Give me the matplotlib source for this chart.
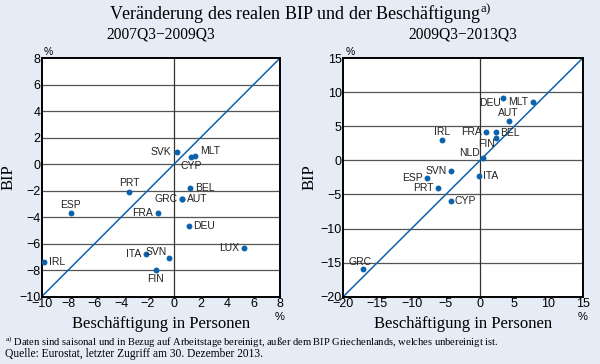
import matplotlib
matplotlib.use("Agg")
import matplotlib.pyplot as plt

plt.rcParams["mathtext.fontset"] = "custom"
plt.rcParams["mathtext.rm"] = "Liberation Serif"

# 2007Q3-2009Q3
left_names = ["SVK", "MLT", "CYP", "PRT", "BEL", "GRC", "AUT", "ESP", "FRA",
              "DEU", "LUX", "IRL", "ITA", "SVN", "FIN"]
left_x = [0.2, 1.6, 1.3, -3.4, 1.2, 0.6, 0.6, -7.8, -1.2, 1.1, 5.3, -9.8, -2.1, -0.4, -1.4]
left_y = [0.9, 0.6, 0.55, -2.1, -1.8, -2.6, -2.6, -3.7, -3.7, -4.65, -6.3, -7.35, -6.8, -7.05, -8.0]

# 2009Q3-2013Q3
right_names = ["DEU", "MLT", "AUT", "FRA", "BEL", "FIN", "IRL", "NLD", "SVN",
               "ITA", "ESP", "PRT", "CYP", "GRC"]
right_x = [3.3, 7.7, 4.2, 0.9, 2.4, 2.3, -5.6, 0.5, -4.2, -0.1, -7.8, -6.2, -4.3, -17.1]
right_y = [9.1, 8.6, 5.8, 4.2, 4.1, 3.3, 3.0, 0.4, -1.6, -2.3, -2.6, -4.1, -6.0, -16.0]

left_ticks = [-10, -8, -6, -4, -2, 0, 2, 4, 6, 8]
right_ticks = [-20, -15, -10, -5, 0, 5, 10, 15]

# label placement: (dx px, dy px, ha)
left_lab = {"SVK": (-5, 0, "right"), "MLT": (5, 5, "left"), "CYP": (0, -9, "center"),
            "PRT": (0, 9, "center"), "BEL": (5, 0, "left"), "GRC": (-4, 0, "right"),
            "AUT": (5, 0, "left"), "ESP": (0, 8, "center"), "FRA": (-5, 0, "right"),
            "DEU": (5, 0, "left"), "LUX": (-5, 0, "right"), "IRL": (5, 0, "left"),
            "ITA": (-5, 0, "right"), "SVN": (-2, 6, "right"), "FIN": (0, -9, "center")}
right_lab = {"DEU": (-2, -5, "right"), "MLT": (-5, 0, "right"), "AUT": (0, 8, "center"),
             "FRA": (-4, 0, "right"), "BEL": (4, -1, "left"), "FIN": (-1, -6, "right"),
             "IRL": (0, 8, "center"), "NLD": (-4, 5, "right"), "SVN": (-4, 0, "right"),
             "ITA": (4, 0, "left"), "ESP": (-4, 0, "right"), "PRT": (-4, 0, "right"),
             "CYP": (4, 0, "left"), "GRC": (-3, 7, "center")}

bg = "#e5ecf6"
blue = "#0d62ad"
serif = "Liberation Serif"
sans = "Liberation Sans"

fig = plt.figure(figsize=(6, 3.64), dpi=100, facecolor=bg)


def panel(rect, xs, ys, names, labs, ticks, title):
    ax = fig.add_axes(rect)
    ax.set_facecolor("white")
    lo, hi = ticks[0], ticks[-1]
    ax.set_xlim(lo, hi)
    ax.set_ylim(lo, hi)
    ax.set_xticks(ticks)
    ax.set_yticks(ticks)
    ax.set_xticklabels([str(t).replace("-", "\u2212") for t in ticks], family=sans, fontsize=9)
    ax.set_yticklabels([str(t).replace("-", "\u2212") for t in ticks], family=sans, fontsize=9)
    ax.tick_params(length=0, pad=1)
    for t in ticks[1:-1]:
        ax.axhline(t, color="#555555", lw=0.9, zorder=1)
    ax.axvline(0, color="#333333", lw=0.9, zorder=1)
    ax.plot([lo, hi], [lo, hi], color=blue, lw=1.1, zorder=2)
    ax.scatter(xs, ys, s=18, color=blue, zorder=3, linewidths=0)
    for n, x, y in zip(names, xs, ys):
        dx, dy, ha = labs[n]
        ax.annotate(n, (x, y), xytext=(dx, dy), textcoords="offset pixels",
                    ha=ha, va="center", fontsize=7.5, family=sans, color="#222222", zorder=4)
    for s in ax.spines.values():
        s.set_linewidth(1.4)
        s.set_color("black")
    ax.text(0.01, 1.005, "%", transform=ax.transAxes, fontsize=7.5, family=sans, va="bottom")
    ax.text(1.0, -0.085, "%", transform=ax.transAxes, fontsize=8, family=sans, ha="center", va="center")
    ax.set_xlabel("Beschäftigung in Personen", family=serif, fontsize=12, labelpad=4)
    ax.set_ylabel("BIP", family=serif, fontsize=12, labelpad=2)
    ax.set_title(title, family=serif, fontsize=11.2, pad=14)
    return ax


panel([0.0695, 0.185, 0.397, 0.655], left_x, left_y, left_names, left_lab, left_ticks,
      "2007Q3\u22122009Q3")
panel([0.572, 0.185, 0.399, 0.655], right_x, right_y, right_names, right_lab, right_ticks,
      "2009Q3\u22122013Q3")

fig.text(0.5, 0.962, "Veränderung des realen BIP und der Beschäftigung$^{\\mathrm{a)}}$",
         ha="center", va="center", family=serif, fontsize=13)
fig.text(0.008, 0.061, "$^{\\mathrm{a)}}$ Daten sind saisonal und in Bezug auf Arbeitstage bereinigt, "
         "außer dem BIP Griechenlands, welches unbereinigt ist.",
         family=serif, fontsize=7.6, va="center")
fig.text(0.008, 0.027, "Quelle: Eurostat, letzter Zugriff am 30. Dezember 2013.",
         family=serif, fontsize=8.3, va="center")

fig.savefig("out.png", dpi=100, facecolor=bg)
